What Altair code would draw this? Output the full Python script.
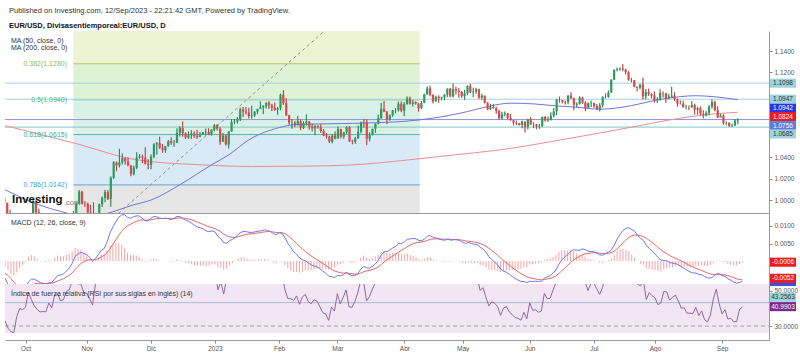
import altair as alt
import pandas as pd

FONT = "Liberation Sans"
W = 764
H_MAIN, H_MACD, H_RSI = 182, 71, 56

# ---------------- daily EUR/USD bars (20 Sep 2022 .. 12 Sep 2023) ----------------
first_open = 1.0026
close = [
    # Sep 2022
    0.9972, 0.9837, 0.9838, 0.9690, 0.9608, 0.9594, 0.9737, 0.9816, 0.9801,
    # Oct
    0.9824, 0.9986, 0.9886, 0.9795, 0.9742, 0.9703, 0.9706, 0.9703, 0.9779, 0.9720, 0.9838,
    0.9855, 0.9775, 0.9784, 0.9860, 0.9877, 0.9965, 1.0079, 0.9965, 0.9964, 0.9882,
    # Nov
    0.9875, 0.9817, 0.9750, 0.9960, 1.0020, 1.0074, 1.0010, 1.0210, 1.0354, 1.0325, 1.0354,
    1.0393, 1.0363, 1.0325, 1.0243, 1.0303, 1.0397, 1.0408, 1.0399, 1.0339, 1.0330, 1.0406,
    # Dec
    1.0522, 1.0535, 1.0491, 1.0467, 1.0507, 1.0553, 1.0535, 1.0537, 1.0631, 1.0677, 1.0628,
    1.0585, 1.0606, 1.0624, 1.0603, 1.0593, 1.0614, 1.0638, 1.0640, 1.0611, 1.0661, 1.0705,
    # Jan 2023
    1.0670, 1.0548, 1.0605, 1.0522, 1.0643, 1.0733, 1.0737, 1.0760, 1.0851, 1.0830, 1.0823,
    1.0788, 1.0793, 1.0830, 1.0856, 1.0871, 1.0885, 1.0914, 1.0890, 1.0868, 1.0847, 1.0862,
    # Feb
    1.0990, 1.0910, 1.0796, 1.0727, 1.0727, 1.0713, 1.0740, 1.0679, 1.0723, 1.0738,
    1.0689, 1.0673, 1.0694, 1.0686, 1.0649, 1.0606, 1.0596, 1.0546, 1.0606, 1.0577,
    # Mar
    1.0669, 1.0596, 1.0635, 1.0683, 1.0551, 1.0546, 1.0582, 1.0640, 1.0731, 1.0730, 1.0577, 1.0609,
    1.0669, 1.0717, 1.0770, 1.0857, 1.0831, 1.0759, 1.0798, 1.0843, 1.0843, 1.0905, 1.0839,
    # Apr
    1.0900, 1.0955, 1.0904, 1.0920, 1.0904, 1.0862, 1.0913, 1.0991, 1.1048, 1.0990,
    1.0926, 1.0969, 1.0957, 1.0965, 1.0989, 1.1047, 1.0973, 1.1042, 1.1027, 1.1017,
    # May
    1.0975, 1.1002, 1.1072, 1.1013, 1.1019, 1.1041, 1.0962, 1.0982, 1.0914, 1.0850, 1.0874, 1.0863,
    1.0839, 1.0767, 1.0805, 1.0813, 1.0771, 1.0750, 1.0726, 1.0720, 1.0705, 1.0737, 1.0689,
    # Jun
    1.0762, 1.0708, 1.0710, 1.0693, 1.0698, 1.0780, 1.0749, 1.0751, 1.0791, 1.0833, 1.0943,
    1.0940, 1.0923, 1.0918, 1.0981, 1.0954, 1.0895, 1.0904, 1.0962, 1.0914, 1.0866, 1.0909,
    # Jul
    1.0911, 1.0882, 1.0852, 1.0889, 1.0968, 1.0969, 1.1009, 1.1130, 1.1221, 1.1228, 1.1236,
    1.1226, 1.1201, 1.1129, 1.1125, 1.1064, 1.1055, 1.1085, 1.0975, 1.1016, 1.0996,
    # Aug
    1.0983, 1.0937, 1.0946, 1.1006, 1.1004, 1.0956, 1.0970, 1.0981, 1.0948, 1.0905, 1.0906, 1.0873,
    1.0873, 1.0872, 1.0892, 1.0847, 1.0863, 1.0810, 1.0796, 1.0818, 1.0878, 1.0922, 1.0844,
    # Sep 2023
    1.0775, 1.0793, 1.0722, 1.0725, 1.0697, 1.0698, 1.0746, 1.0756,
]
high = [
    1.0051, 0.9976, 0.9908, 0.9851, 0.9710, 0.9671, 0.9747, 0.9838, 0.9854,
    0.9854, 0.9999, 0.9999, 0.9919, 0.9821, 0.9748, 0.9761, 0.9745, 0.9807, 0.9806, 0.9871,
    0.9876, 0.9863, 0.9875, 0.9873, 0.9897, 0.9976, 1.0094, 1.0087, 0.9990, 0.9975,
    0.9954, 0.9977, 0.9830, 0.9966, 1.0033, 1.0095, 1.0094, 1.0222, 1.0365, 1.0362, 1.0481,
    1.0437, 1.0400, 1.0400, 1.0330, 1.0323, 1.0448, 1.0430, 1.0426, 1.0497, 1.0384, 1.0429,
    1.0533, 1.0545, 1.0595, 1.0527, 1.0508, 1.0564, 1.0590, 1.0563, 1.0674, 1.0694, 1.0737,
    1.0635, 1.0644, 1.0657, 1.0645, 1.0659, 1.0638, 1.0639, 1.0672, 1.0675, 1.0665, 1.0713,
    1.0713, 1.0683, 1.0630, 1.0615, 1.0647, 1.0760, 1.0760, 1.0778, 1.0868, 1.0874, 1.0874,
    1.0867, 1.0887, 1.0836, 1.0857, 1.0927, 1.0889, 1.0917, 1.0929, 1.0903, 1.0914, 1.0874,
    1.0999, 1.1033, 1.0957, 1.0801, 1.0760, 1.0743, 1.0790, 1.0760, 1.0740, 1.0804,
    1.0741, 1.0720, 1.0705, 1.0703, 1.0712, 1.0667, 1.0629, 1.0603, 1.0620, 1.0645,
    1.0691, 1.0668, 1.0640, 1.0694, 1.0695, 1.0566, 1.0593, 1.0700, 1.0736, 1.0759, 1.0759, 1.0637,
    1.0670, 1.0721, 1.0803, 1.0912, 1.0930, 1.0837, 1.0802, 1.0846, 1.0864, 1.0925, 1.0925,
    1.0920, 1.0973, 1.0971, 1.0941, 1.0927, 1.0914, 1.0929, 1.0998, 1.1067, 1.1075,
    1.0990, 1.0979, 1.0983, 1.0971, 1.0995, 1.1048, 1.1050, 1.1095, 1.1064, 1.1052,
    1.1024, 1.1035, 1.1078, 1.1092, 1.1055, 1.1054, 1.1045, 1.0998, 1.0980, 1.0920, 1.0904, 1.0903,
    1.0876, 1.0845, 1.0828, 1.0832, 1.0820, 1.0807, 1.0751, 1.0745, 1.0724, 1.0746, 1.0736,
    1.0763, 1.0780, 1.0731, 1.0714, 1.0714, 1.0785, 1.0790, 1.0783, 1.0823, 1.0865, 1.0950,
    1.0971, 1.0940, 1.0934, 1.0985, 1.1012, 1.0964, 1.0918, 1.0976, 1.0971, 1.0930, 1.0915,
    1.0935, 1.0915, 1.0901, 1.0911, 1.0975, 1.1001, 1.1029, 1.1135, 1.1229, 1.1244, 1.1245,
    1.1276, 1.1232, 1.1210, 1.1148, 1.1126, 1.1065, 1.1090, 1.1150, 1.1043, 1.1046,
    1.1002, 1.1019, 1.0967, 1.1042, 1.1020, 1.1004, 1.0996, 1.1064, 1.1011, 1.0952, 1.0936, 1.0932,
    1.0895, 1.0888, 1.0930, 1.0905, 1.0876, 1.0880, 1.0844, 1.0835, 1.0890, 1.0945, 1.0932,
    1.0882, 1.0810, 1.0807, 1.0738, 1.0731, 1.0718, 1.0759, 1.0768,
]
low = [
    0.9968, 0.9808, 0.9807, 0.9669, 0.9553, 0.9593, 0.9536, 0.9636, 0.9736,
    0.9752, 0.9810, 0.9836, 0.9787, 0.9731, 0.9671, 0.9686, 0.9667, 0.9632, 0.9711, 0.9720,
    0.9808, 0.9762, 0.9706, 0.9705, 0.9808, 0.9856, 0.9962, 0.9959, 0.9935, 0.9871,
    0.9853, 0.9767, 0.9730, 0.9747, 0.9935, 0.9978, 1.0000, 0.9936, 1.0197, 1.0271, 1.0307,
    1.0334, 1.0332, 1.0317, 1.0224, 1.0232, 1.0290, 1.0389, 1.0347, 1.0335, 1.0290, 1.0290,
    1.0393, 1.0428, 1.0480, 1.0444, 1.0443, 1.0501, 1.0517, 1.0500, 1.0535, 1.0596, 1.0595,
    1.0575, 1.0575, 1.0574, 1.0582, 1.0573, 1.0590, 1.0613, 1.0606, 1.0609, 1.0605, 1.0647,
    1.0652, 1.0519, 1.0545, 1.0513, 1.0483, 1.0640, 1.0713, 1.0718, 1.0742, 1.0780, 1.0805,
    1.0766, 1.0765, 1.0780, 1.0805, 1.0854, 1.0807, 1.0860, 1.0855, 1.0835, 1.0837, 1.0801,
    1.0844, 1.0893, 1.0790, 1.0708, 1.0670, 1.0685, 1.0700, 1.0656, 1.0667, 1.0700,
    1.0660, 1.0643, 1.0613, 1.0670, 1.0631, 1.0600, 1.0577, 1.0535, 1.0533, 1.0570,
    1.0577, 1.0580, 1.0576, 1.0620, 1.0545, 1.0524, 1.0528, 1.0573, 1.0626, 1.0680, 1.0516, 1.0551,
    1.0609, 1.0631, 1.0711, 1.0762, 1.0825, 1.0713, 1.0745, 1.0782, 1.0814, 1.0832, 1.0826,
    1.0788, 1.0897, 1.0896, 1.0878, 1.0895, 1.0831, 1.0853, 1.0910, 1.0992, 1.0974,
    1.0908, 1.0924, 1.0914, 1.0936, 1.0938, 1.0966, 1.0966, 1.0964, 1.0992, 1.0961,
    1.0960, 1.0941, 1.0985, 1.1004, 1.0967, 1.0998, 1.0950, 1.0941, 1.0908, 1.0845, 1.0848, 1.0859,
    1.0810, 1.0760, 1.0760, 1.0786, 1.0760, 1.0745, 1.0700, 1.0703, 1.0700, 1.0673, 1.0635,
    1.0663, 1.0706, 1.0676, 1.0665, 1.0668, 1.0687, 1.0737, 1.0733, 1.0749, 1.0775, 1.0796,
    1.0915, 1.0908, 1.0896, 1.0900, 1.0952, 1.0843, 1.0870, 1.0897, 1.0905, 1.0834, 1.0865,
    1.0874, 1.0866, 1.0849, 1.0833, 1.0870, 1.0955, 1.0961, 1.1008, 1.1127, 1.1209, 1.1215,
    1.1210, 1.1180, 1.1120, 1.1106, 1.1060, 1.1020, 1.1039, 1.0944, 1.0945, 1.0978,
    1.0955, 1.0914, 1.0912, 1.0935, 1.0963, 1.0913, 1.0946, 1.0965, 1.0930, 1.0877, 1.0897, 1.0868,
    1.0851, 1.0844, 1.0866, 1.0803, 1.0802, 1.0797, 1.0766, 1.0786, 1.0795, 1.0860, 1.0833,
    1.0770, 1.0781, 1.0705, 1.0702, 1.0686, 1.0686, 1.0700, 1.0711,
]

# moving averages (bar index -> value)
ma50_bar = [0, 12, 20, 28, 35, 45, 51, 61, 72, 78, 85, 97, 100, 110, 121, 131, 138, 149, 161,
            168, 176, 184, 192, 199, 207, 212, 218, 227, 235, 240, 247, 255]
ma50_val = [1.0100, 0.9955, 0.9890, 0.9845, 0.9870, 0.9955, 1.0000, 1.0143, 1.0330, 1.0424,
            1.0565, 1.0690, 1.0706, 1.0715, 1.0720, 1.0728, 1.0737, 1.0769, 1.0831, 1.0878,
            1.0910, 1.0903, 1.0884, 1.0872, 1.0853, 1.0862, 1.0887, 1.0940, 1.0971, 1.0980,
            1.0970, 1.0942]
ma200_bar = [0, 24, 46, 69, 86, 104, 121, 138, 155, 172, 195, 218, 235, 247, 255]
ma200_val = [1.0700, 1.0537, 1.0378, 1.0330, 1.0315, 1.0318, 1.0330, 1.0370, 1.0420, 1.0470,
             1.0572, 1.0684, 1.0769, 1.0810, 1.0824]

# Fibonacci retracement drawing
fib_ratio = [0.236, 0.382, 0.5, 0.618, 0.786, 1.0]
fib_price = [1.1700, 1.1280, 1.0940, 1.0615, 1.0142, 0.9500]
fib_bar = [24.0, 144.4]          # anchors of the drawing (bar index)
trend_price = [0.9500, 1.2381]   # dashed trend line of the drawing

# horizontal lines and price-scale labels
hline_price = [1.1098, 1.0947, 1.0756, 1.0685]
price_badge = [1.1098, 1.0947, 1.0942, 1.0824, 1.0756, 1.0685]
macd_badge = [-0.0006, -0.0052]
macd_line_last = [-0.0058]
rsi_badge = [43.2563, 40.9903]
rsi_hline = [43.2563]
rsi_level = [30.0]

macd_seed = {"ema12": 1.0005, "ema26": 1.0035, "signal": -0.0028}
rsi_seed = {"gain": 0.0032, "loss": 0.0050}

month_names = ["Oct", "Nov", "Dic", "2023", "Feb", "Mar", "Abr", "May", "Jun", "Jul", "Ago", "Sep"]

# ---------------- table building ----------------
dates = pd.bdate_range("2022-09-20", "2023-09-12")
n = len(close)
opens = [first_open] + close[:-1]
bars = pd.DataFrame({"i": range(n), "open": opens, "high": high, "low": low, "close": close})
bars["col"] = ["#2a9d5c" if c >= o else "#e0464a" for o, c in zip(opens, close)]

e12, e26, sig = macd_seed["ema12"], macd_seed["ema26"], macd_seed["signal"]
ag, al = rsi_seed["gain"], rsi_seed["loss"]
prev = first_open
m_l, s_l, r_l = [], [], []
for c in close:
    e12 += (c - e12) * 2 / 13
    e26 += (c - e26) * 2 / 27
    m = e12 - e26
    sig += (m - sig) * 2 / 10
    ch = c - prev
    ag = (ag * 13 + max(ch, 0)) / 14
    al = (al * 13 + max(-ch, 0)) / 14
    prev = c
    m_l.append(m)
    s_l.append(sig)
    r_l.append(100 - 100 / (1 + ag / al))
ind = pd.DataFrame({"i": range(n), "macd": m_l, "signal": s_l,
                    "hist": [a - b for a, b in zip(m_l, s_l)], "zero": 0.0, "rsi": r_l})

month_idx = [k for k in range(1, len(dates)) if dates[k].month != dates[k - 1].month]
label_expr = ("[" + ",".join("'%s'" % s for s in month_names) + "][indexof(["
              + ",".join(str(k) for k in month_idx) + "], datum.value)]")

# ---------------- scales / axes ----------------
XS = alt.Scale(domain=[1.96, 264.1], nice=False, zero=False)
YS_MAIN = alt.Scale(domain=[0.9878, 1.1588], nice=False, zero=False)
YS_MACD = alt.Scale(domain=[-0.00653, 0.0137], nice=False, zero=False)
YS_RSI = alt.Scale(domain=[22.1, 53.8], nice=False, zero=False)

AXC = dict(grid=False, title=None, labelFont=FONT, labelFontSize=6.5, labelColor="#555",
           tickColor="#888", tickSize=3, domainColor="#9a9a9a", labelPadding=2)
X_HID = alt.Axis(labels=False, ticks=False, domain=True, grid=False, title=None, domainColor="#9a9a9a")
X_BOT = alt.Axis(values=month_idx, labelExpr=label_expr, **AXC)
Y_MAIN = alt.Axis(orient="right", values=[1.0, 1.02, 1.04, 1.12, 1.14], format=".4f", **AXC)
Y_MACD = alt.Axis(orient="right", values=[0.005, 0.01], format=".4f", **AXC)
Y_RSI = alt.Axis(orient="right", values=[30, 50], format=".4f", **AXC)

BADGE = "M-1,-0.35H1V0.35H-1Z"


def badge_box(values, fills, dys, ys, yax):
    out = []
    for v, f, dy in zip(values, fills, dys):
        d = pd.DataFrame({"v": [v]})
        out.append(alt.Chart(d).mark_point(shape=BADGE, size=676, filled=True, fill=f, color=f, opacity=1,
                                           strokeWidth=0, yOffset=dy)
                   .encode(x=alt.value(778), y=alt.Y("v:Q", scale=ys, axis=yax)))
    return out


def badge_layers(values, fills, tcols, dys, ys, yax):
    out = badge_box(values, fills, dys, ys, yax)
    for v, tc, dy in zip(values, tcols, dys):
        d = pd.DataFrame({"v": [v], "t": [format(v, ".4f")]})
        out.append(alt.Chart(d).mark_text(font=FONT, fontSize=6.5, color=tc, dy=dy, align="center",
                                          baseline="middle")
                   .encode(x=alt.value(778), y=alt.Y("v:Q", scale=ys, axis=yax), text="t:N"))
    return out


def txt(s, x, y, size=7, color="#333", weight="normal", align="left"):
    return alt.Chart(pd.DataFrame({"t": [s]})).mark_text(
        font=FONT, fontSize=size, color=color, fontWeight=weight, align=align, baseline="middle"
    ).encode(x=alt.value(x), y=alt.value(y), text="t:N")


# ---------------- main price panel ----------------
zone_fill = ["#edf4d6", "#def2d6", "#d9f1e6", "#d9e9f5", "#e6e6e6"]
zones = pd.DataFrame({"x0": fib_bar[0], "x1": fib_bar[1], "top": fib_price[:-1],
                      "bot": fib_price[1:], "f": zone_fill})
zone_l = alt.Chart(zones).mark_rect(clip=True).encode(
    x=alt.X("x0:Q", scale=XS, axis=X_HID), x2="x1:Q",
    y=alt.Y("top:Q", scale=YS_MAIN, axis=Y_MAIN), y2="bot:Q",
    color=alt.Color("f:N", scale=None))

lvl = pd.DataFrame({"x0": fib_bar[0], "x1": fib_bar[1], "p": fib_price[1:5],
                    "f": ["#b4c65a", "#93d0b0", "#55b5aa", "#62a7d8"],
                    "tc": ["#9cb83a", "#4dbb66", "#2fae8c", "#3f9fd6"],
                    "t": ["%s(%.4f)" % (r, p) for r, p in zip(fib_ratio[1:5], fib_price[1:5])]})
lvl_l = alt.Chart(lvl).mark_rule(strokeWidth=1, clip=True).encode(
    x=alt.X("x0:Q", scale=XS, axis=X_HID), x2="x1:Q",
    y=alt.Y("p:Q", scale=YS_MAIN, axis=Y_MAIN), color=alt.Color("f:N", scale=None))
lvl_t = alt.Chart(lvl).mark_text(font=FONT, fontSize=7, align="right", baseline="middle").encode(
    x=alt.value(62), y=alt.Y("p:Q", scale=YS_MAIN, axis=Y_MAIN), text="t:N",
    color=alt.Color("tc:N", scale=None))

hl = pd.DataFrame({"p": hline_price, "f": ["#a3d2e4", "#a3d2e4", "#8d93dc", "#7cc7c4"]})
hl_l = alt.Chart(hl).mark_rule(strokeWidth=1).encode(
    x=alt.value(0), x2=alt.value(W), y=alt.Y("p:Q", scale=YS_MAIN, axis=Y_MAIN),
    color=alt.Color("f:N", scale=None))

trend = pd.DataFrame({"b": fib_bar, "p": trend_price})
trend_l = alt.Chart(trend).mark_line(strokeDash=[3, 3], color="#8f8f8f", strokeWidth=1, clip=True).encode(
    x=alt.X("b:Q", scale=XS, axis=X_HID), y=alt.Y("p:Q", scale=YS_MAIN, axis=Y_MAIN))

ma200_l = alt.Chart(pd.DataFrame({"b": ma200_bar, "v": ma200_val})).mark_line(
    color="#e9908f", strokeWidth=1, interpolate="monotone", clip=True).encode(
    x=alt.X("b:Q", scale=XS, axis=X_HID), y=alt.Y("v:Q", scale=YS_MAIN, axis=Y_MAIN))
ma50_l = alt.Chart(pd.DataFrame({"b": ma50_bar, "v": ma50_val})).mark_line(
    color="#7274de", strokeWidth=1, interpolate="monotone", clip=True).encode(
    x=alt.X("b:Q", scale=XS, axis=X_HID), y=alt.Y("v:Q", scale=YS_MAIN, axis=Y_MAIN))

wick = alt.Chart(bars).mark_rule(strokeWidth=1, clip=True).encode(
    x=alt.X("i:Q", scale=XS, axis=X_HID), y=alt.Y("low:Q", scale=YS_MAIN, axis=Y_MAIN), y2="high:Q",
    color=alt.Color("col:N", scale=None))
wick2 = alt.Chart(bars).mark_rule(strokeWidth=0.6, clip=True, color="#333", opacity=0.5).encode(
    x=alt.X("i:Q", scale=XS, axis=X_HID), y=alt.Y("low:Q", scale=YS_MAIN, axis=Y_MAIN), y2="high:Q")
body = alt.Chart(bars).mark_bar(size=2.2, clip=True).encode(
    x=alt.X("i:Q", scale=XS, axis=X_HID), y=alt.Y("open:Q", scale=YS_MAIN, axis=Y_MAIN), y2="close:Q",
    color=alt.Color("col:N", scale=None))

main = alt.layer(
    zone_l, lvl_l, hl_l, trend_l, ma200_l, ma50_l, wick, wick2, body, lvl_t,
    txt("MA (50, close, 0)", 6, 10),
    txt("MA (200, close, 0)", 6, 16.5),
    txt("Investing", 7, 169, size=11.5, color="#111", weight="bold"),
    txt(".com", 59, 172, size=7.5, color="#777"),
    *badge_layers(price_badge,
                  ["#9dd3dc", "#9dd3dc", "#2a35e8", "#ee1c1c", "#5b7be0", "#9dd3dc"],
                  ["#333", "#333", "#fff", "#fff", "#fff", "#333"],
                  [0, 0, 8.5, 4.3, 6.1, 6.8], YS_MAIN, Y_MAIN),
).properties(width=W, height=H_MAIN)

# ---------------- MACD panel ----------------
hist_l = alt.Chart(ind).mark_rule(strokeWidth=1, color="#f4a3a3", clip=True).encode(
    x=alt.X("i:Q", scale=XS, axis=X_HID), y=alt.Y("zero:Q", scale=YS_MACD, axis=Y_MACD), y2="hist:Q")
macd_l = alt.Chart(ind).mark_line(color="#6c78ee", strokeWidth=1, clip=True).encode(
    x=alt.X("i:Q", scale=XS, axis=X_HID), y=alt.Y("macd:Q", scale=YS_MACD, axis=Y_MACD))
sig_l = alt.Chart(ind).mark_line(color="#f06464", strokeWidth=1, clip=True).encode(
    x=alt.X("i:Q", scale=XS, axis=X_HID), y=alt.Y("signal:Q", scale=YS_MACD, axis=Y_MACD))
macd = alt.layer(
    hist_l, sig_l, macd_l,
    txt("MACD (12, 26, close, 9)", 6, 10),
    *badge_box(macd_line_last, ["#3a4fe0"], [0], YS_MACD, Y_MACD),
    *badge_layers(macd_badge, ["#ee1c1c", "#ee1c1c"], ["#fff", "#fff"],
                  [-1, -1], YS_MACD, Y_MACD),
).properties(width=W, height=H_MACD)

# ---------------- RSI panel ----------------
rsi_bg = alt.Chart(pd.DataFrame({"lo": [26.0], "hi": [80.0]})).mark_rect(color="#f3e6f4", clip=True).encode(
    x=alt.value(0), x2=alt.value(W), y=alt.Y("lo:Q", scale=YS_RSI, axis=Y_RSI), y2="hi:Q")
rsi_30 = alt.Chart(pd.DataFrame({"v": rsi_level})).mark_rule(color="#a0a0a0", strokeDash=[4, 3], strokeWidth=1).encode(
    x=alt.value(0), x2=alt.value(W), y=alt.Y("v:Q", scale=YS_RSI, axis=Y_RSI))
rsi_h = alt.Chart(pd.DataFrame({"v": rsi_hline})).mark_rule(color="#a6bccd", strokeWidth=1).encode(
    x=alt.value(0), x2=alt.value(W), y=alt.Y("v:Q", scale=YS_RSI, axis=Y_RSI))
rsi_line = alt.Chart(ind).mark_line(color="#8c6a9c", strokeWidth=1, clip=True).encode(
    x=alt.X("i:Q", scale=XS, axis=X_BOT), y=alt.Y("rsi:Q", scale=YS_RSI, axis=Y_RSI))
rsi = alt.layer(
    rsi_bg, rsi_30, rsi_h, rsi_line,
    txt("Índice de fuerza relativa (RSI por sus siglas en inglés) (14)", 6, 9.5),
    *badge_layers(rsi_badge, ["#9dd3dc", "#7b2a8c"], ["#333", "#fff"], [-5.3, 0], YS_RSI, Y_RSI),
).properties(width=W, height=H_RSI)

chart = alt.vconcat(main, macd, rsi, spacing=0, bounds="flush").properties(
    title=alt.TitleParams(
        text="Published on Investing.com, 12/Sep/2023 - 22:21:42 GMT, Powered by TradingView.",
        subtitle="EUR/USD, Divisasentiemporeal:EUR/USD, D",
        anchor="start", frame="group", font=FONT, fontSize=7.5, fontWeight="normal", color="#333",
        subtitleFont=FONT, subtitleFontSize=7.5, subtitleFontWeight="bold", subtitleColor="#111",
        subtitlePadding=7, offset=2, dx=4),
    padding={"left": 4, "top": 7, "right": 0, "bottom": 0},
    background="white",
).configure_view(stroke=None)

chart.save("out.html", embed_options={"renderer": "svg", "actions": False})
